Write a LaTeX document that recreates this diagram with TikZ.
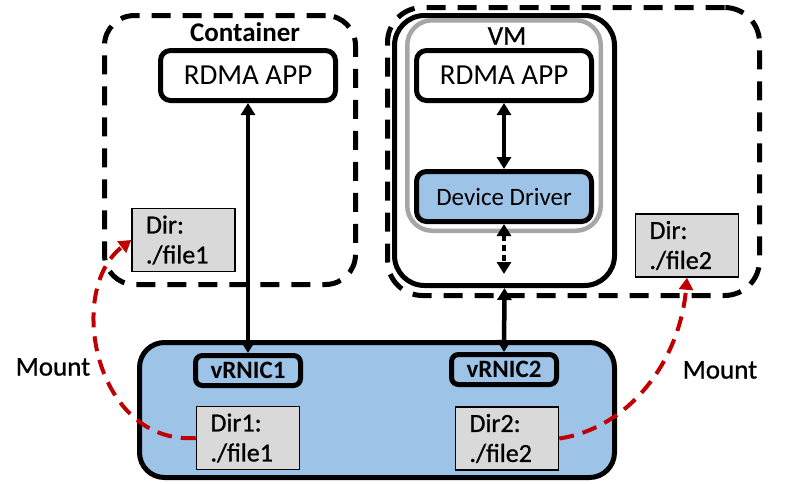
\documentclass[tikz,border=0pt]{standalone}
\usepackage{fontspec}
\setmainfont{Carlito}
\newfontfamily\medfont[FakeBold=0.8]{Carlito}
\usetikzlibrary{arrows.meta}
\definecolor{hostblue}{HTML}{9DC3E6}
\definecolor{dirgray}{HTML}{D9D9D9}
\definecolor{framegray}{HTML}{A6A6A6}
\definecolor{mountred}{HTML}{C00000}
\tikzset{
  frame/.style={draw, line width=5pt, rounded corners=30pt, inner sep=0pt},
  dashframe/.style={frame, dash pattern=on 19pt off 12pt},
  appbox/.style={draw, line width=5pt, rounded corners=10pt, fill=white, inner sep=0pt,
    minimum width=175pt, minimum height=50pt, font=\fontsize{29}{34}\selectfont},
  nicbox/.style={draw, line width=5pt, rounded corners=7pt, fill=hostblue, inner sep=0pt,
    minimum width=105pt, minimum height=30pt, font=\fontsize{25}{30}\selectfont\bfseries},
  dirbox/.style={draw, line width=1.5pt, fill=dirgray, minimum height=63pt, text width=75pt,
    inner xsep=14pt, inner ysep=0pt, align=left, font=\fontsize{26}{30}\medfont},
  link/.style={line width=4.5pt, {Triangle[length=12pt,width=14pt]}-{Triangle[length=12pt,width=14pt]}},
  mountline/.style={draw=mountred, line width=4pt, dash pattern=on 15pt off 9pt,
    -{Triangle[length=12pt,width=14pt]}},
  lbl/.style={font=\fontsize{27}{32}\medfont}
}
\begin{document}
\begin{tikzpicture}[x=1pt,y=-1pt]
\useasboundingbox (0,0) rectangle (796,483);

\node[dashframe, minimum width=251pt, minimum height=269pt] (container) at (230,150) {};
\node[dashframe, rounded corners=35pt, minimum width=372pt, minimum height=288pt] (server) at (573.5,151.5) {};
\node[frame, minimum width=220pt, minimum height=270pt] (vm) at (504.5,150.5) {};
\node[frame, draw=framegray, line width=4.5pt, rounded corners=25pt, minimum width=193.5pt, minimum height=210.5pt] (guest) at (504,125.5) {};

\node[font=\fontsize{27}{32}\selectfont\bfseries] (clabel) at (245,32) {Container};
\node[lbl] (vmlabel) at (507,36) {VM};

\node[appbox] (app1) at (248,75.5) {RDMA APP};
\node[appbox] (app2) at (504,75.5) {RDMA APP};
\node[appbox, fill=hostblue, font=\fontsize{25}{30}\selectfont] (driver) at (504,196.5) {Device Driver};

\node[dirbox] (dir1a) at (183.5,240) {Dir:\\./file1};
\node[dirbox] (dir2a) at (687,245.5) {Dir:\\./file2};

\node[frame, rounded corners=25pt, fill=hostblue, minimum width=475pt, minimum height=135pt] (host) at (377,410) {};
\node[nicbox] (nic1) at (248,370.5) {vRNIC1};
\node[nicbox] (nic2) at (504,369.5) {vRNIC2};
\node[dirbox] (dir1b) at (248,438) {Dir1:\\./file1};
\node[dirbox] (dir2b) at (507,438.5) {Dir2:\\./file2};

\coordinate (vmlow) at (504,274);

\draw[link] (app1.south) -- (nic1.north);
\draw[link] (app2.south) -- (driver.north);
\draw[link, dash pattern=on 6pt off 4pt] (driver.south) -- (vmlow);
\draw[link] (vm.south) -- (nic2.north);

\node[lbl] (mount1) at (53,367) {Mount};
\node[lbl] (mount2) at (720,370) {Mount};

\draw[mountline] (dir1b.west) .. controls (95,445) and (65,290) .. (dir1a.west);
\draw[mountline] (dir2b.east) .. controls (630,428) and (680,360) .. (dir2a.south);
\end{tikzpicture}
\end{document}
